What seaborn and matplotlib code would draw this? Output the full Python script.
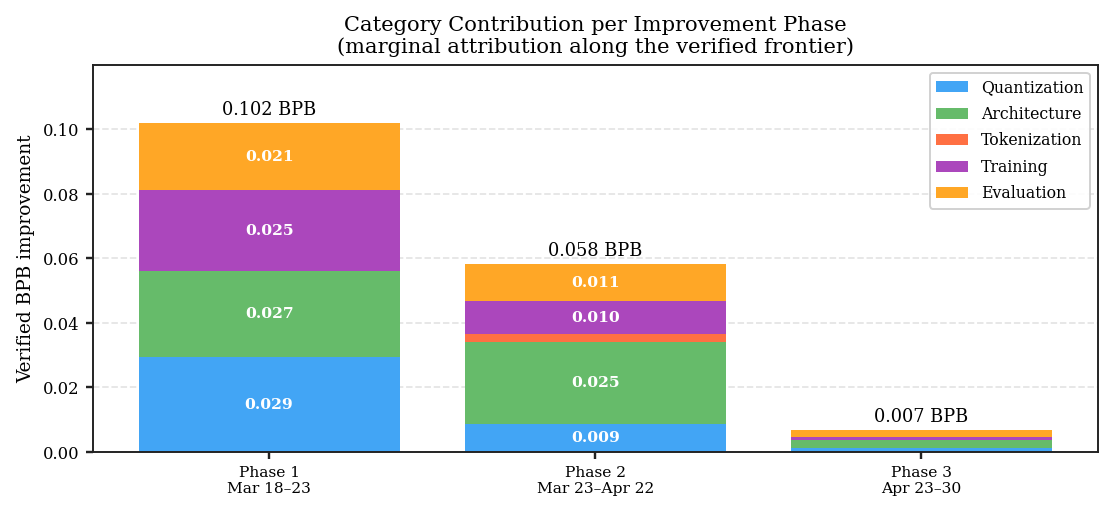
import matplotlib
matplotlib.use("Agg")
import matplotlib.pyplot as plt
import seaborn as sns
import numpy as np
import pandas as pd

phases = ["Phase 1\nMar 18–23", "Phase 2\nMar 23–Apr 22", "Phase 3\nApr 23–30"]
categories = ["Quantization", "Architecture", "Tokenization", "Training", "Evaluation"]
quantization = [0.0294, 0.0087, 0.0012]
architecture = [0.0266, 0.0254, 0.0026]
tokenization = [0.0, 0.0024, 0.0]
training = [0.0251, 0.0102, 0.0009]
evaluation = [0.0209, 0.0115, 0.0021]
colors = ["#42A5F5", "#66BB6A", "#FF7043", "#AB47BC", "#FFA726"]

values = {
    "Quantization": quantization,
    "Architecture": architecture,
    "Tokenization": tokenization,
    "Training": training,
    "Evaluation": evaluation,
}

sns.set_theme(style="ticks")
plt.rcParams["font.family"] = ["DejaVu Serif"]
for k in ["text.color", "axes.labelcolor", "xtick.color", "ytick.color"]:
    plt.rcParams[k] = "black"

fig, ax = plt.subplots(figsize=(8, 3.727), dpi=139)
fig.subplots_adjust(left=0.0836, right=0.987, top=0.8745, bottom=0.1274)

bottom = np.zeros(len(phases))
for cat, col in zip(categories, colors):
    df = pd.DataFrame({"phase": phases, "val": values[cat]})
    sns.barplot(data=df, x="phase", y="val", order=phases, color=col, bottom=bottom,
                width=0.8, ax=ax, label=cat, saturation=1, edgecolor="none", linewidth=0)
    for i, v in enumerate(values[cat]):
        if v >= 0.005:
            ax.text(i, bottom[i] + v / 2, f"{v:.3f}", ha="center", va="center",
                    color="white", fontsize=8, fontweight="bold")
    bottom = bottom + np.array(values[cat])

for i, t in enumerate(bottom):
    ax.text(i, t + 0.0012, f"{t:.3f} BPB", ha="center", va="bottom", fontsize=9.2)

ax.set_ylim(0, 0.12)
ax.set_xlim(-0.54, 2.54)
ax.set_yticks([0, 0.02, 0.04, 0.06, 0.08, 0.10])
ax.yaxis.grid(True, linestyle="--", color="#dddddd", alpha=0.8, linewidth=0.9)
ax.set_axisbelow(True)
ax.set_xlabel("")
ax.set_ylabel("Verified BPB improvement", fontsize=9.6)
ax.tick_params(axis="y", labelsize=8.5, length=3.5, color="#222222")
ax.tick_params(axis="x", labelsize=8, length=3.5, color="#222222")
for s in ax.spines.values():
    s.set_color("#222222")
    s.set_linewidth(1.0)
ax.set_title("Category Contribution per Improvement Phase\n(marginal attribution along the verified frontier)",
             fontsize=10.9)
ax.legend(loc="upper right", fontsize=8.2, labelspacing=0.6, frameon=True,
          framealpha=0.9, edgecolor="#cccccc")

fig.savefig("out.png", dpi=139)
